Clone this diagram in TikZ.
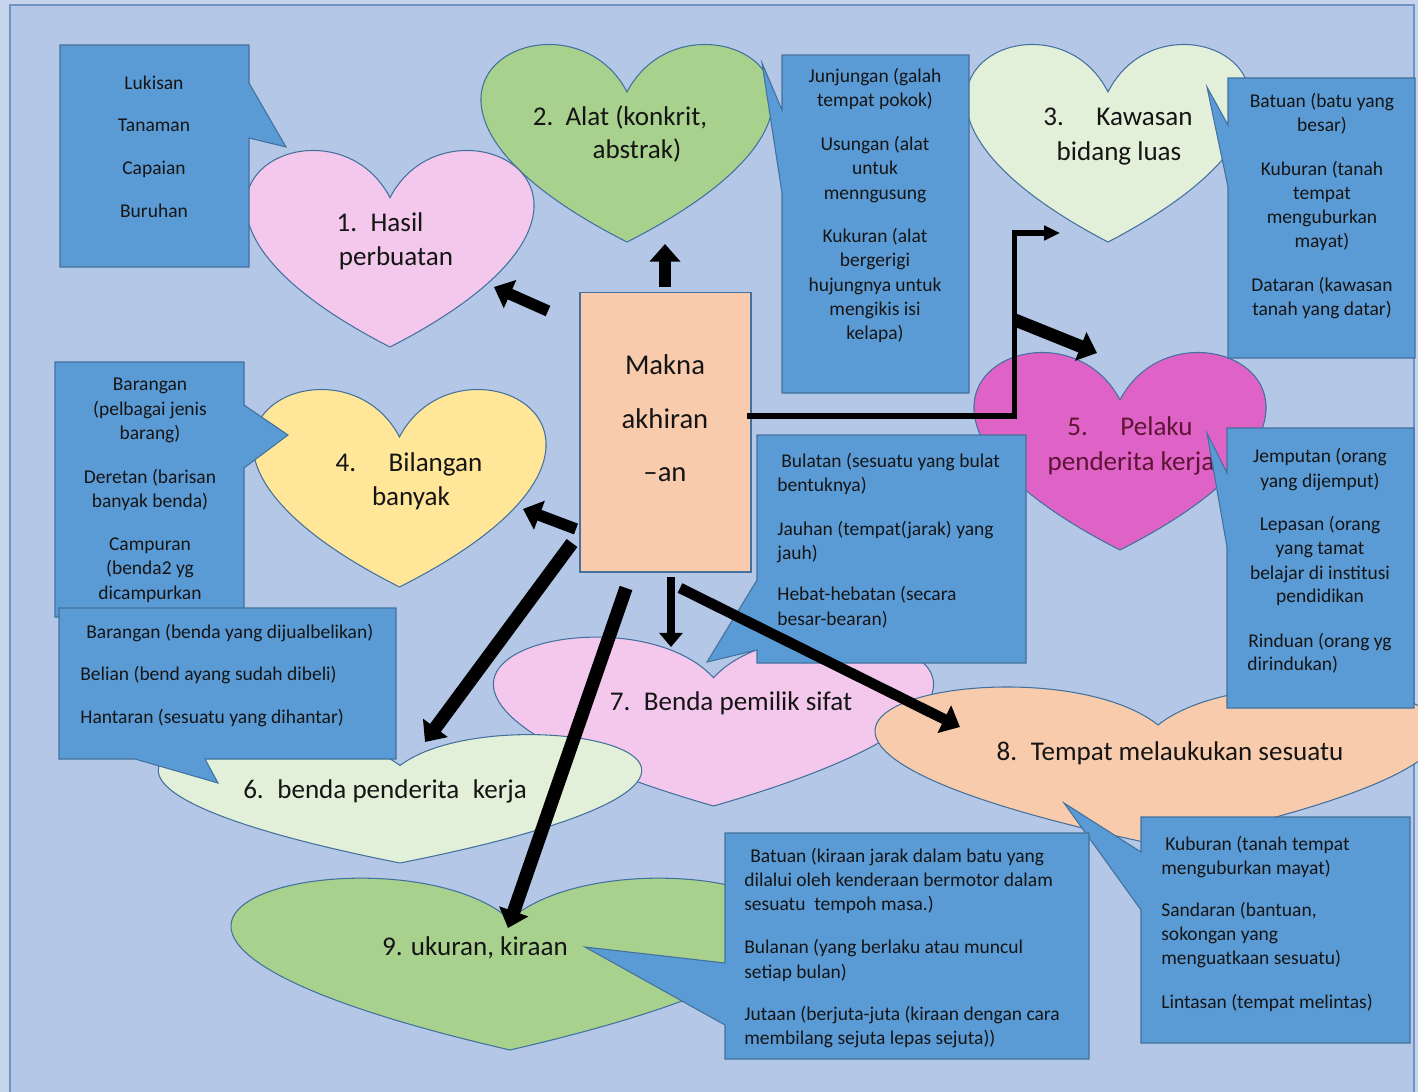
\documentclass[tikz,border=0pt]{standalone}
\usepackage{fontspec}
\setmainfont{Carlito}
\usetikzlibrary{arrows.meta}
\definecolor{bgblue}{HTML}{B4C7E7}
\definecolor{outerbg}{HTML}{C6D4EC}
\definecolor{framec}{HTML}{7093C6}
\definecolor{callfill}{HTML}{5B9BD5}
\definecolor{calldraw}{HTML}{41719C}
\definecolor{hpink}{HTML}{F4C8EC}
\definecolor{hgreen}{HTML}{A9D18E}
\definecolor{hlgreen}{HTML}{E2F0D9}
\definecolor{hyellow}{HTML}{FFE699}
\definecolor{hmagenta}{HTML}{DF63C6}
\definecolor{hpeach}{HTML}{F8CBAD}
\definecolor{txt}{HTML}{151515}
\definecolor{txtred}{HTML}{5E1535}
\newcommand{\heartpath}[5]{%
  \path[#1] ({#2+#4/2},{#3+#5/4})
    .. controls ({#2+0.7083333*#4},{#3-#5/3}) and ({#2+1.5208333*#4},{#3+#5/4}) .. ({#2+#4/2},{#3+#5})
    .. controls ({#2-0.5208333*#4},{#3+#5/4}) and ({#2+0.2916667*#4},{#3-#5/3}) .. cycle;}
\begin{document}
\begin{tikzpicture}[x=0.02cm,y=-0.02cm,
  heart/.style={draw=calldraw,line width=0.6pt},
  call/.style={fill=callfill,draw=calldraw,line width=0.6pt},
  htxt/.style={font=\fontsize{15.4}{18}\selectfont,text=txt,inner sep=0pt,anchor=mid,yshift=-2.2pt},
  ctxt/.style={font=\fontsize{11.1}{13.9}\selectfont,text=txt,inner sep=0pt,anchor=mid,yshift=-1.6pt},
  ltxt/.style={ctxt,anchor=mid west},
  mtxt/.style={font=\fontsize{16.3}{19}\selectfont,text=txt,inner sep=0pt,anchor=mid,yshift=-2.4pt},
  blk/.style={draw=black,line width=6.5pt,-{Triangle[width=17pt,length=10pt]}},
  blkthin/.style={draw=black,line width=5pt,-{Triangle[width=13pt,length=8pt]}},
  elbow/.style={draw=black,line width=2.85pt,line join=miter,-{Triangle[width=8pt,length=9pt]}}]
\useasboundingbox (0,0) rectangle (1418,1092);
\clip (0,0) rectangle (1418,1092);
\fill[outerbg] (0,0) rectangle (1418,1092);
\draw[fill=bgblue,draw=framec,line width=1pt] (10,5) rectangle (1414,1100);

% ---------- hearts ----------
\heartpath{heart,fill=hgreen}{482}{42}{290}{200}
\node[htxt] (h2a) at (620,117) {2.\hspace{0.45em}Alat (konkrit,};
\node[htxt] (h2b) at (637,150) {abstrak)};

\heartpath{heart,fill=hpink}{247}{148}{286}{199}
\node[htxt] (h1a) at (380,223) {1.\hspace{0.5em}Hasil};
\node[htxt] (h1b) at (396,257) {perbuatan};

\heartpath{heart,fill=hlgreen}{967}{42}{282}{200}
\node[htxt] (h3a) at (1118,117) {3.\hspace{1.2em}Kawasan};
\node[htxt] (h3b) at (1119,152) {bidang luas};

\heartpath{heart,fill=hyellow}{254}{387}{291}{200}
\node[htxt] (h4a) at (409,463) {4.\hspace{1.2em}Bilangan};
\node[htxt] (h4b) at (411,497) {banyak};

\heartpath{heart,fill=hmagenta}{975}{350}{290}{200}
\node[htxt,text=txtred] (h5a) at (1130,427) {5.\hspace{1.2em}Pelaku};
\node[htxt,text=txtred] (h5b) at (1131,462) {penderita kerja};

\heartpath{heart,fill=hpink}{495}{635}{437}{171}
\node[htxt] (h7) at (731,702) {7.\hspace{0.5em}Benda pemilik sifat};

\heartpath{heart,fill=hlgreen}{160}{733}{480}{130}
\node[htxt] (h6) at (385,790) {6.\hspace{0.5em}benda penderita\hspace{0.5em}kerja};

\heartpath{heart,fill=hpeach}{877}{685}{562}{160}
\node[htxt] (h8) at (1170,752) {8.\hspace{0.5em}Tempat melaukukan sesuatu};

\heartpath{heart,fill=hgreen}{233}{876}{554}{174}
\node[htxt] (h9) at (475,947) {9. ukuran, kiraan};

% ---------- callouts ----------
\path[call] (60,45) -- (249,45) -- (249,83) -- (286,147) -- (249,138) -- (249,267) -- (60,267) -- cycle;
\foreach \yy/\txtline [count=\i] in {82/Lukisan,124/Tanaman,167/Capaian,210/Buruhan}
  \node[ctxt] (tA\i) at (154,\yy) {\txtline};

\path[call] (782,55) -- (969,55) -- (969,393) -- (782,393) -- (782,193) -- (762,63) -- (782,110) -- cycle;
\foreach \yy/\txtline [count=\i] in {75/Junjungan (galah,99/tempat pokok),143/Usungan (alat,167/untuk,192/menngusung,235/Kukuran (alat,259/bergerigi,284/hujungnya untuk,308/mengikis isi,332/kelapa)}
  \node[ctxt] (tB\i) at (875,\yy) {\txtline};

\path[call] (1228,78) -- (1415,78) -- (1415,358) -- (1228,358) -- (1228,187) -- (1207,87) -- (1228,125) -- cycle;
\foreach \yy/\txtline [count=\i] in {100/Batuan (batu yang,124/besar),168/Kuburan (tanah,192/tempat,216/menguburkan,240/mayat),284/Dataran (kawasan,308/tanah yang datar)}
  \node[ctxt] (tC\i) at (1322,\yy) {\txtline};

\path[call] (55,362) -- (244,362) -- (244,405) -- (288,435) -- (244,468) -- (244,617) -- (55,617) -- cycle;
\foreach \yy/\txtline [count=\i] in {383/Barangan,408/(pelbagai jenis,432/barang),476/Deretan (barisan,500/banyak benda),543/Campuran,567/(benda2 yg,592/dicampurkan}
  \node[ctxt] (tF\i) at (150,\yy) {\txtline};

\path[call] (59,608) -- (396,608) -- (396,759) -- (205,759) -- (218,783) -- (135,759) -- (59,759) -- cycle;
\node[ltxt] (tG1) at (86,631) {Barangan (benda yang dijualbelikan)};
\node[ltxt] (tG2) at (80,673) {Belian (bend ayang sudah dibeli)};
\node[ltxt] (tG3) at (80,716) {Hantaran (sesuatu yang dihantar)};

\path[call] (757,435) -- (1026,435) -- (1026,663) -- (757,663) -- (757,650) -- (707,662) -- (757,580) -- cycle;
\foreach \yy/\txtline [count=\i] in {484/bentuknya),528/Jauhan (tempat(jarak) yang,552/jauh),593/Hebat-hebatan (secara,618/besar-bearan)}
  \node[ltxt] (tE\i) at (777,\yy) {\txtline};
\node[ltxt] (tE0) at (781,460) {Bulatan (sesuatu yang bulat};

\path[call] (1227,428) -- (1414,428) -- (1414,708) -- (1227,708) -- (1227,547) -- (1207,433) -- (1227,473) -- cycle;
\foreach \yy/\txtline [count=\i] in {455/Jemputan (orang,480/yang dijemput),523/Lepasan (orang,547/yang tamat,572/belajar di institusi,595/pendidikan,640/Rinduan (orang yg}
  \node[ctxt] (tD\i) at (1320,\yy) {\txtline};
\node[ltxt] (tD8) at (1247,663) {dirindukan)};

\path[call] (1141,817) -- (1410,817) -- (1410,1043) -- (1141,1043) -- (1141,910) -- (1064,803) -- (1141,852) -- cycle;
\node[ltxt] (tH1) at (1165,843) {Kuburan (tanah tempat};
\foreach \yy/\txtline [count=\i] in {867/menguburkan mayat),909/{Sandaran (bantuan,},933/sokongan yang,957/menguatkaan sesuatu),1001/Lintasan (tempat melintas)}
  \node[ltxt] (tHx\i) at (1161,\yy) {\txtline};

\path[call] (725,833) -- (1089,833) -- (1089,1059) -- (725,1059) -- (725,1025) -- (585,947) -- (725,963) -- cycle;
\node[ltxt] (tI1) at (750,855) {Batuan (kiraan jarak dalam batu yang};
\foreach \yy/\txtline [count=\i] in {879/dilalui oleh kenderaan bermotor dalam,903/sesuatu\ \ tempoh masa.),946/Bulanan (yang berlaku atau muncul,971/setiap bulan),1013/Jutaan (berjuta-juta (kiraan dengan cara,1037/membilang sejuta lepas sejuta))}
  \node[ltxt] (tIx\i) at (744,\yy) {\txtline};

% ---------- centre box ----------
\node[draw=calldraw,fill=hpeach,line width=0.6pt,minimum width=3.42cm,minimum height=5.6cm,inner sep=0pt] (makna) at (665.5,432) {};
\node[mtxt] (mk1) at (665,366) {Makna};
\node[mtxt] (mk2) at (665,420) {akhiran};
\node[mtxt] (mk3) at (665,473) {–an};

% ---------- arrows ----------
\coordinate (a1s) at (548,311); \coordinate (a1e) at (494,287);
\coordinate (a2s) at (665,287); \coordinate (a2e) at (665,244);
\coordinate (a3s) at (747,416); \coordinate (a3m) at (1014,416);
\coordinate (a3n) at (1014,233); \coordinate (a3e) at (1060,233);
\coordinate (a4s) at (1015,320); \coordinate (a4e) at (1097,353);
\coordinate (a5s) at (576,529); \coordinate (a5e) at (523,509);
\coordinate (a6s) at (572,543); \coordinate (a6e) at (425,742);
\coordinate (a7s) at (626,588); \coordinate (a7e) at (508,928);
\coordinate (a8s) at (671,577); \coordinate (a8e) at (671,647);
\coordinate (a9s) at (680,588); \coordinate (a9e) at (960,727);
\draw[blk] (a1s) -- (a1e);
\draw[blk] (a2s) -- (a2e);
\draw[elbow] (a3s) -- (a3m) -- (a3n) -- (a3e);
\draw[blk,line width=7.3pt] (a4s) -- (a4e);
\draw[blk] (a5s) -- (a5e);
\draw[blk,line width=7.6pt] (a6s) -- (a6e);
\draw[blk,line width=7.6pt] (a7s) -- (a7e);
\draw[blkthin] (a8s) -- (a8e);
\draw[blk,line width=6pt] (a9s) -- (a9e);
\end{tikzpicture}
\end{document}
